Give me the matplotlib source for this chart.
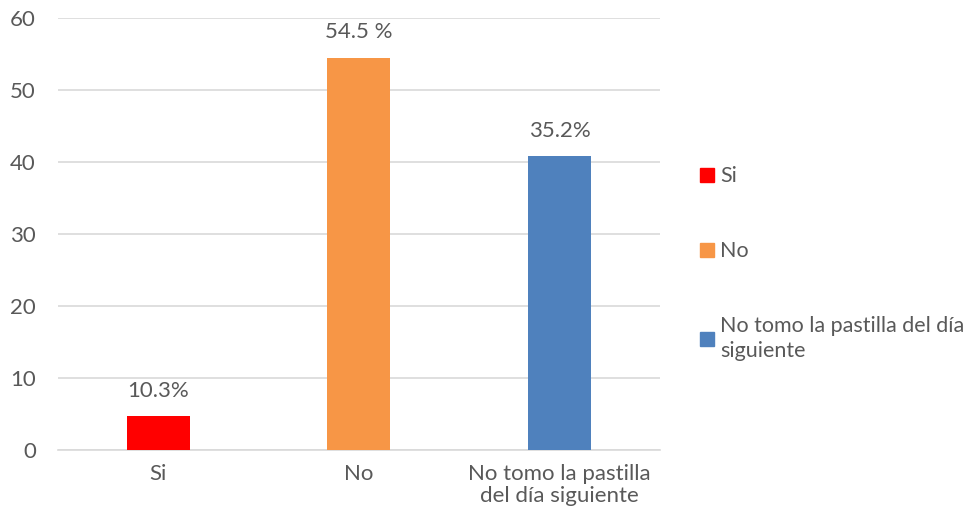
import matplotlib
matplotlib.use("Agg")
import matplotlib.pyplot as plt
from matplotlib.patches import Patch

categories = ["Si", "No", "No tomo la pastilla\ndel día siguiente"]
legend_labels = ["Si", "No", "No tomo la pastilla del día\nsiguiente"]
values = [4.7, 54.5, 40.8]
value_labels = ["10.3%", "54.5 %", "35.2%"]
colors = ["#ff0000", "#f79646", "#4f81bd"]

TEXT = "#595959"
FS = 16
plt.rcParams["font.family"] = ["Lato", "DejaVu Sans"]

fig = plt.figure(figsize=(9.76, 5.21), dpi=100)
ax = fig.add_axes([0.0594, 0.1363, 0.6166, 0.8292])

x = range(len(categories))
bars = ax.bar(x, values, width=0.315, color=colors, zorder=3)

for bar, lab in zip(bars, value_labels):
    ax.annotate(lab, (bar.get_x() + bar.get_width() / 2, bar.get_height()),
                xytext=(0, 11), textcoords="offset points",
                ha="center", va="bottom", fontsize=FS, color=TEXT)

ax.set_xlim(-0.5, 2.5)
ax.set_ylim(0, 60)
ax.set_yticks(range(0, 61, 10))
ax.set_xticks(list(x))
ax.set_xticklabels(categories, fontsize=FS, color=TEXT, linespacing=1.15)
ax.tick_params(axis="y", labelsize=FS, labelcolor=TEXT, length=0, pad=16)
ax.tick_params(axis="x", length=0, pad=10)
ax.grid(axis="y", color="#d9d9d9", linewidth=1.2, zorder=0)
for side in ["top", "right", "left"]:
    ax.spines[side].set_visible(False)
ax.spines["bottom"].set_color("#d9d9d9")
ax.spines["bottom"].set_linewidth(1.2)

handles = [Patch(color=c, label=l) for c, l in zip(colors, legend_labels)]
leg = fig.legend(handles=handles, loc="upper left", bbox_to_anchor=(0.708, 0.697),
                 frameon=False, fontsize=15.5, labelcolor=TEXT, handlelength=0.65,
                 handleheight=0.6, handletextpad=0.3, labelspacing=2.55,
                 borderaxespad=0)
for t in leg.get_texts():
    t.set_linespacing(1.3)

fig.savefig("out.png", dpi=100)
